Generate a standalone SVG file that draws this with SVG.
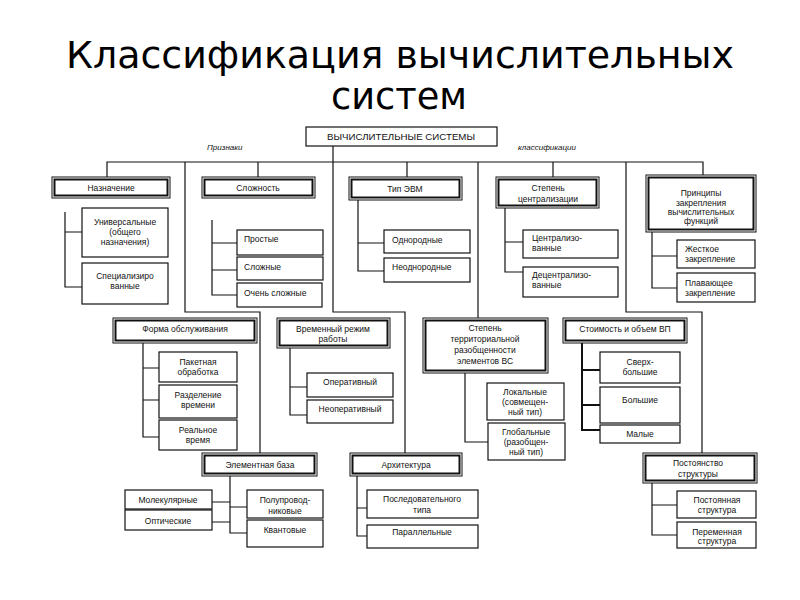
<svg xmlns="http://www.w3.org/2000/svg" width="800" height="600" viewBox="0 0 800 600">
<style>
.title{font-family:"DejaVu Sans Condensed","DejaVu Sans",sans-serif;font-stretch:condensed;font-size:37px;fill:#000;text-anchor:middle}
text{font-family:"Liberation Sans",Arial,sans-serif;font-size:8.5px;fill:#111}
.c{text-anchor:middle}
.it{font-style:italic;font-size:8px}
.box{fill:#fff;stroke:#111;stroke-width:1.2}
.cat{fill:#fff;stroke:#111;stroke-width:1}
.catin{fill:none;stroke:#111;stroke-width:2}
.ln{fill:none;stroke:#111;stroke-width:1.2}
</style>
<rect width="800" height="600" fill="#fff"/>
<text class="title" x="400" y="68" textLength="668" lengthAdjust="spacingAndGlyphs">Классификация вычислительных</text>
<text class="title" x="399" y="109" textLength="136" lengthAdjust="spacingAndGlyphs">систем</text>

<g id="connectors">
<path class="ln" d="M333,146 V312 H405 V453"/>
<path class="ln" d="M107,177 V162 H703 V175"/>
<path class="ln" d="M185,162 V312 H260 V453"/>
<path class="ln" d="M258,162 V177"/>
<path class="ln" d="M407,162 V177"/>
<path class="ln" d="M478,162 V318"/>
<path class="ln" d="M553,162 V177"/>
<path class="ln" d="M626,162 V312 H702 V453"/>
<path class="ln" d="M65,212 V287 H82 M65,232 H82"/>
<path class="ln" d="M212,220 V295 H237 M212,243 H237 M212,270 H237"/>
<path class="ln" d="M358,200 V271 H384 M358,243 H384"/>
<path class="ln" d="M505,208 V272 H523 M505,242 H523"/>
<path class="ln" d="M652,232 V288 H677 M652,256 H677"/>
<path class="ln" d="M143,343 V437 H159 M143,368 H159 M143,400 H159"/>
<path class="ln" d="M290,348 V415 H307 M290,387 H307"/>
<path class="ln" d="M465,373 V442 H488"/>
<path class="ln" d="M582,343 V430 H600 M582,370 H600 M582,405 H600" style="stroke-width:2"/>
<path class="ln" d="M230,476 V533 H247 M212,502 H230 M212,522 H230 M230,507 H247"/>
<path class="ln" d="M357,476 V536 H367 M357,508 H367"/>
<path class="ln" d="M652,483 V535 H677 M652,505 H677"/>
</g>

<g id="n-root"><rect class="box" x="306" y="127" width="191" height="19"/><text class="c" x="401" y="140" textLength="148" lengthAdjust="spacingAndGlyphs">ВЫЧИСЛИТЕЛЬНЫЕ СИСТЕМЫ</text></g>
<g id="lbl-priznaki"><text class="it" x="207" y="150">Признаки</text></g>
<g id="lbl-klass"><text class="it" x="518" y="150">классификации</text></g>

<g id="n-naznachenie"><rect class="cat" x="52" y="177" width="118" height="21"/><rect class="catin" x="54.5" y="179.5" width="113" height="16"/><text class="c" x="111" y="191">Назначение</text></g>
<g id="n-universal"><rect class="box" x="82" y="208" width="86" height="49"/><text class="c" x="125" y="225">Универсальные</text><text class="c" x="125" y="235">(общего</text><text class="c" x="125" y="245">назначения)</text></g>
<g id="n-special"><rect class="box" x="82" y="263" width="86" height="41"/><text class="c" x="125" y="279">Специализиро</text><text class="c" x="125" y="289">ванные</text></g>

<g id="n-slozhnost"><rect class="cat" x="202" y="177" width="113" height="21"/><rect class="catin" x="204.5" y="179.5" width="108" height="16"/><text class="c" x="258" y="191">Сложность</text></g>
<g id="n-prostye"><rect class="box" x="237" y="230" width="86" height="25"/><text x="244" y="242">Простые</text></g>
<g id="n-slozhnye"><rect class="box" x="237" y="257" width="86" height="23"/><text x="244" y="270">Сложные</text></g>
<g id="n-ochen"><rect class="box" x="237" y="283" width="85" height="24"/><text x="244" y="296">Очень сложные</text></g>

<g id="n-tip"><rect class="cat" x="349" y="177" width="113" height="23"/><rect class="catin" x="351.5" y="179.5" width="108" height="18"/><text class="c" x="405" y="192">Тип ЭВМ</text></g>
<g id="n-odnor"><rect class="box" x="384" y="230" width="86" height="23"/><text x="392" y="243">Однородные</text></g>
<g id="n-neodnor"><rect class="box" x="384" y="258" width="86" height="24"/><text x="392" y="270">Неоднородные</text></g>

<g id="n-centr"><rect class="cat" x="496" y="177" width="103" height="31"/><rect class="catin" x="498.5" y="179.5" width="98" height="26"/><text class="c" x="548" y="191">Степень</text><text class="c" x="548" y="202">централизации</text></g>
<g id="n-centralized"><rect class="box" x="523" y="230" width="95" height="28"/><text x="532" y="241">Централизо-</text><text x="532" y="251">ванные</text></g>
<g id="n-decentralized"><rect class="box" x="523" y="267" width="95" height="30"/><text x="532" y="278">Децентрализо-</text><text x="532" y="288">ванные</text></g>

<g id="n-principy"><rect class="cat" x="646" y="175" width="110" height="57"/><rect class="catin" x="648.5" y="177.5" width="105" height="52"/><text class="c" x="701" y="196">Принципы</text><text class="c" x="701" y="206">закрепления</text><text class="c" x="701" y="215">вычислительных</text><text class="c" x="701" y="224">функций</text></g>
<g id="n-zhestkoe"><rect class="box" x="677" y="240" width="78" height="28"/><text x="685" y="252">Жесткое</text><text x="685" y="262">закрепление</text></g>
<g id="n-plav"><rect class="box" x="677" y="273" width="78" height="29"/><text x="685" y="286">Плавающее</text><text x="685" y="296">закрепление</text></g>

<g id="n-forma"><rect class="cat" x="113" y="318" width="144" height="25"/><rect class="catin" x="115.5" y="320.5" width="139" height="20"/><text class="c" x="185" y="332">Форма обслуживания</text></g>
<g id="n-paket"><rect class="box" x="159" y="352" width="78" height="30"/><text class="c" x="198" y="365">Пакетная</text><text class="c" x="198" y="375">обработка</text></g>
<g id="n-razdel"><rect class="box" x="159" y="385" width="78" height="33"/><text class="c" x="198" y="398">Разделение</text><text class="c" x="198" y="408">времени</text></g>
<g id="n-realnoe"><rect class="box" x="159" y="420" width="78" height="30"/><text class="c" x="198" y="433">Реальное</text><text class="c" x="198" y="443">время</text></g>

<g id="n-vremen"><rect class="cat" x="277" y="318" width="113" height="30"/><rect class="catin" x="279.5" y="320.5" width="108" height="25"/><text class="c" x="333" y="332">Временный режим</text><text class="c" x="333" y="342">работы</text></g>
<g id="n-oper"><rect class="box" x="307" y="373" width="86" height="24"/><text class="c" x="350" y="385">Оперативный</text></g>
<g id="n-neoper"><rect class="box" x="307" y="400" width="86" height="23"/><text class="c" x="350" y="412">Неоперативный</text></g>

<g id="n-territ"><rect class="cat" x="423" y="318" width="125" height="55"/><rect class="catin" x="425.5" y="320.5" width="120" height="50"/><text class="c" x="485" y="331">Степень</text><text class="c" x="485" y="342">территориальной</text><text class="c" x="485" y="353">разобщенности</text><text class="c" x="485" y="364">элементов ВС</text></g>
<g id="n-lokal"><rect class="box" x="487" y="383" width="77" height="37"/><text class="c" x="525" y="395">Локальные</text><text class="c" x="525" y="405">(совмещен-</text><text class="c" x="525" y="415">ный тип)</text></g>
<g id="n-global"><rect class="box" x="488" y="423" width="77" height="37"/><text class="c" x="526" y="435">Глобальные</text><text class="c" x="526" y="445">(разобщен-</text><text class="c" x="526" y="455">ный тип)</text></g>

<g id="n-stoim"><rect class="cat" x="563" y="318" width="124" height="25"/><rect class="catin" x="565.5" y="320.5" width="119" height="20"/><text class="c" x="625" y="332">Стоимость и объем ВП</text></g>
<g id="n-sverh"><rect class="box" x="600" y="352" width="80" height="31"/><text class="c" x="640" y="365">Сверх-</text><text class="c" x="640" y="375">большие</text></g>
<g id="n-bolshie"><rect class="box" x="600" y="387" width="80" height="36"/><text class="c" x="640" y="403">Большие</text></g>
<g id="n-malye"><rect class="box" x="600" y="425" width="80" height="18"/><text class="c" x="640" y="437">Малые</text></g>

<g id="n-elem"><rect class="cat" x="202" y="453" width="115" height="23"/><rect class="catin" x="204.5" y="455.5" width="110" height="18"/><text class="c" x="260" y="468">Элементная база</text></g>
<g id="n-molek"><rect class="box" x="125" y="490" width="87" height="19"/><text class="c" x="168" y="503">Молекулярные</text></g>
<g id="n-optich"><rect class="box" x="125" y="510" width="87" height="20"/><text class="c" x="168" y="524">Оптические</text></g>
<g id="n-polupr"><rect class="box" x="247" y="490" width="76" height="28"/><text class="c" x="285" y="503">Полупровод-</text><text class="c" x="285" y="514">никовые</text></g>
<g id="n-kvant"><rect class="box" x="247" y="520" width="76" height="27"/><text class="c" x="285" y="533">Квантовые</text></g>

<g id="n-arch"><rect class="cat" x="350" y="453" width="112" height="23"/><rect class="catin" x="352.5" y="455.5" width="107" height="18"/><text class="c" x="406" y="468">Архитектура</text></g>
<g id="n-posled"><rect class="box" x="367" y="490" width="111" height="28"/><text class="c" x="422" y="502">Последовательного</text><text class="c" x="422" y="513">типа</text></g>
<g id="n-parall"><rect class="box" x="367" y="525" width="111" height="23"/><text class="c" x="422" y="535">Параллельные</text></g>

<g id="n-postoyanstvo"><rect class="cat" x="643" y="453" width="114" height="30"/><rect class="catin" x="645.5" y="455.5" width="109" height="25"/><text class="c" x="698" y="466">Постоянство</text><text class="c" x="698" y="477">структуры</text></g>
<g id="n-postoyannaya"><rect class="box" x="677" y="491" width="79" height="27"/><text class="c" x="717" y="503">Постоянная</text><text class="c" x="717" y="513">структура</text></g>
<g id="n-peremennaya"><rect class="box" x="677" y="522" width="79" height="26"/><text class="c" x="717" y="535">Переменная</text><text class="c" x="717" y="544">структура</text></g>
</svg>
